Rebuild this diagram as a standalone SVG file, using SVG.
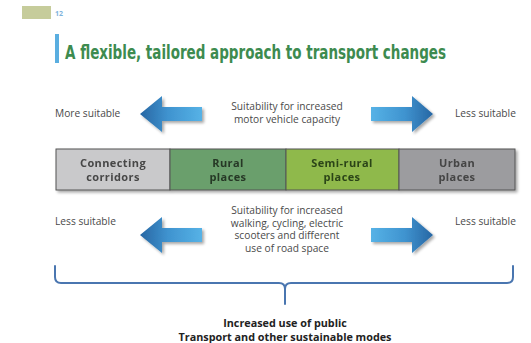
<svg xmlns="http://www.w3.org/2000/svg" width="531" height="343" viewBox="0 0 531 343">
<defs>
<linearGradient id="gL" x1="0" y1="0" x2="1" y2="0">
<stop offset="0" stop-color="#2766a3"/>
<stop offset="0.45" stop-color="#3f93cf"/>
<stop offset="1" stop-color="#56b2e6"/>
</linearGradient>
<linearGradient id="gR" x1="0" y1="0" x2="1" y2="0">
<stop offset="0" stop-color="#56b2e6"/>
<stop offset="0.55" stop-color="#3f93cf"/>
<stop offset="1" stop-color="#2766a3"/>
</linearGradient>
<filter id="sh" x="-20%" y="-20%" width="150%" height="160%">
<feGaussianBlur in="SourceAlpha" stdDeviation="1.5"/>
<feOffset dx="1.5" dy="2" result="b"/>
<feComponentTransfer><feFuncA type="linear" slope="0.35"/></feComponentTransfer>
<feMerge><feMergeNode/><feMergeNode in="SourceGraphic"/></feMerge>
</filter>
</defs>
<style>
.t{font-family:"Open Sans","Liberation Sans",sans-serif;font-size:10.2px;fill:#4a4a4a}
.c{text-anchor:middle}
.b{font-family:"Open Sans","Liberation Sans",sans-serif;font-size:11px;font-weight:bold;text-anchor:middle;letter-spacing:0.4px}
.cell{stroke:#555;stroke-width:1}
.brace{fill:none;stroke:#4a76b0;stroke-width:2;stroke-linecap:round}
.r{font-family:"Open Sans","Liberation Sans",sans-serif;font-size:10.8px;font-weight:bold;fill:#222;text-anchor:middle}
</style>
<rect width="531" height="343" fill="#ffffff"/>
<g id="header">
<rect x="22" y="6" width="29" height="13" fill="#c6cc9b"/>
<text x="55" y="16" font-family="Open Sans, Liberation Sans, sans-serif" font-size="7" font-weight="bold" fill="#7fb3dc">12</text>
<rect x="55" y="34" width="4" height="29" fill="#5aaee0"/>
<text transform="translate(65,59) scale(1,1.33)" x="0" y="0" font-family="DejaVu Sans Condensed, DejaVu Sans, sans-serif" font-stretch="condensed" font-size="15" font-weight="bold" fill="#3d8b4f" textLength="381" lengthAdjust="spacingAndGlyphs">A flexible, tailored approach to transport changes</text>
</g>
<g id="top-row">
<text class="t" x="55" y="117">More suitable</text>
<text class="t c" x="287" y="110">Suitability for increased</text>
<text class="t c" x="287" y="123">motor vehicle capacity</text>
<text class="t" x="455" y="117">Less suitable</text>
</g>
<g id="bar" filter="url(#sh)">
<g id="node-corridors"><rect class="cell" x="56" y="149" width="114" height="41" fill="#c9c9cb"/>
<text class="b" x="113" y="167" fill="#474747">Connecting</text><text class="b" x="113" y="181" fill="#474747">corridors</text></g>
<g id="node-rural"><rect class="cell" x="170" y="149" width="116" height="41" fill="#6a9f6c"/>
<text class="b" x="228" y="167" fill="#263826">Rural</text><text class="b" x="228" y="181" fill="#263826">places</text></g>
<g id="node-semirural"><rect class="cell" x="286" y="149" width="113" height="41" fill="#8fb94b"/>
<text class="b" x="342" y="167" fill="#2c4419">Semi-rural</text><text class="b" x="342" y="181" fill="#2c4419">places</text></g>
<g id="node-urban"><rect class="cell" x="399" y="149" width="116" height="41" fill="#9c9c9f"/>
<text class="b" x="457" y="167" fill="#444">Urban</text><text class="b" x="457" y="181" fill="#444">places</text></g>
</g>
<g id="bottom-row">
<text class="t" x="55" y="225">Less suitable</text>
<text class="t c" x="287" y="214">Suitability for increased</text>
<text class="t c" x="287" y="226.5">walking, cycling, electric</text>
<text class="t c" x="287" y="239">scooters and different</text>
<text class="t c" x="287" y="251.5">use of road space</text>
<text class="t" x="455" y="225">Less suitable</text>
</g>
<g id="connectors">
<path filter="url(#sh)" fill="url(#gL)" d="M140,114 L162,96 L162,107 L202,107 L202,121 L162,121 L162,132 Z"/>
<path filter="url(#sh)" fill="url(#gR)" d="M433,114 L412,96 L412,107 L371,107 L371,121 L412,121 L412,132 Z"/>
<path filter="url(#sh)" fill="url(#gL)" d="M140,235 L162,217 L162,228 L202,228 L202,242 L162,242 L162,253 Z"/>
<path filter="url(#sh)" fill="url(#gR)" d="M433,235 L412,217 L412,228 L371,228 L371,242 L412,242 L412,253 Z"/>
<path class="brace" d="M55,266 V277 Q55,283 61,283 H279 Q285,283 285,289 V304 M285,289 Q285,283 291,283 H507 Q513,283 513,277 V266"/>
</g>
<g id="result">
<text class="r" x="285" y="327">Increased use of public</text>
<text class="r" x="285" y="341">Transport and other sustainable modes</text>
</g>
</svg>
